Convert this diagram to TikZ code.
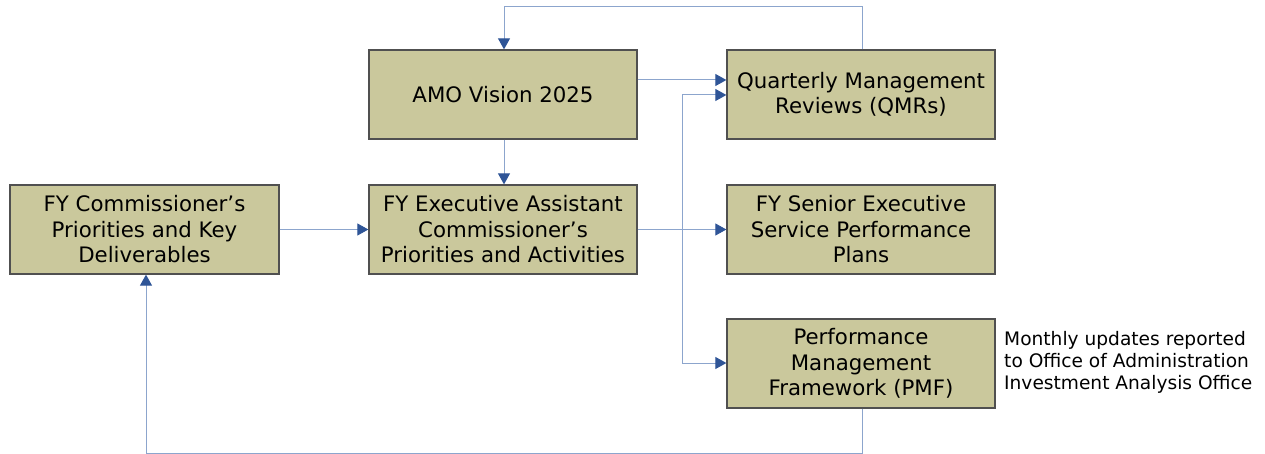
\documentclass[tikz,border=0pt]{standalone}
\usepackage{fontspec}
\setmainfont{DejaVu Sans}
\usetikzlibrary{arrows.meta}
\definecolor{boxfill}{RGB}{202,200,156}
\definecolor{boxline}{RGB}{80,80,80}
\definecolor{conn}{RGB}{140,165,205}
\definecolor{tipblue}{RGB}{47,85,151}
\tikzset{
  x=1pt, y=-1pt,
  stagebox/.style={draw=boxline, fill=boxfill, line width=1.3pt, minimum width=268pt, minimum height=89pt, inner sep=0pt, align=center, font=\fontsize{21.3}{25.5}\selectfont},
  conline/.style={draw=conn, line width=1pt},
  arr/.style={conline, -{Triangle[length=11pt,width=12pt,color=tipblue,fill=tipblue]}},
  note/.style={anchor=north west, align=left, inner sep=0pt, font=\fontsize{18.6}{22}\selectfont}
}
\begin{document}
\begin{tikzpicture}
\useasboundingbox (0,0) rectangle (1265,454);
\node[stagebox] (amo) at (503,94.5) {AMO Vision 2025};
\node[stagebox] (qmr) at (861,94.5) {Quarterly Management\\Reviews (QMRs)};
\node[stagebox, minimum width=269pt] (comm) at (144.5,229.5) {FY Commissioner’s\\Priorities and Key\\Deliverables};
\node[stagebox] (eac) at (503,229.5) {FY Executive Assistant\\Commissioner’s\\Priorities and Activities};
\node[stagebox] (ses) at (861,229.5) {FY Senior Executive\\Service Performance\\Plans};
\node[stagebox] (pmf) at (861,363.5) {Performance\\Management\\Framework (PMF)};
\node[note] (txt) at (1004,331) {Monthly updates reported\\to Office of Administration\\Investment Analysis Office};

\coordinate (jtop) at (682,95);
\coordinate (jbot) at (682,363);
\coordinate (tl) at (504,7);
\coordinate (tr) at (862,7);
\coordinate (bl) at (146,453);
\coordinate (br) at (862,453);

% AMO -> QMR
\draw[arr] (amo.east |- 0,80) -- (qmr.west |- 0,80);
% AMO -> EAC
\draw[arr] (amo.south -| 504,0) -- (eac.north -| 504,0);
% Comm -> EAC
\draw[arr] (comm.east) -- (eac.west);
% EAC -> SES
\draw[arr] (eac.east) -- (ses.west);
% vertical branch
\draw[conline] (jtop) -- (jbot);
\draw[arr] (jtop) -- (qmr.west |- jtop);
\draw[arr] (jbot) -- (pmf.west |- jbot);
% QMR feedback to AMO
\draw[arr] (qmr.north -| tr) -- (tr) -- (tl) -- (amo.north -| tl);
% PMF feedback to Commissioner
\draw[arr] (pmf.south -| br) -- (br) -- (bl) -- (comm.south -| bl);
\end{tikzpicture}
\end{document}
